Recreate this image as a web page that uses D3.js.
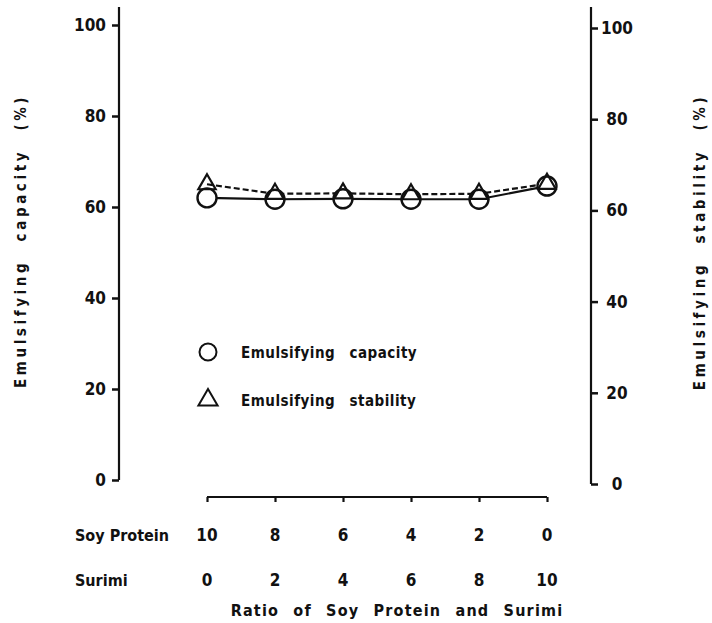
<!DOCTYPE html>
<html>
<head>
<meta charset="utf-8">
<script src="https://cdn.jsdelivr.net/npm/d3@7/dist/d3.min.js"></script>
<style>
  body { margin: 0; background: #fff; }
  text { font-family: "DejaVu Sans Condensed", "Liberation Sans Narrow", sans-serif; font-weight: bold; fill: #111; }
</style>
</head>
<body>
<svg id="svg" width="712" height="623"></svg>
<script>
// ratio categories (soy protein : surimi)
const soyProtein = [10, 8, 6, 4, 2, 0]
const surimi = [0, 2, 4, 6, 8, 10]
const capacity = [62.0, 61.7, 61.8, 61.7, 61.7, 64.6]
const stability = [65.0, 62.9, 63.0, 62.8, 62.9, 65.1]
const yTicks = [0, 20, 40, 60, 80, 100]

const svg = d3.select("#svg")
const ink = "#111"

const x = d3.scaleLinear().domain([0, 5]).range([207, 547])
const yL = d3.scaleLinear().domain([0, 100]).range([480, 25])
const yR = d3.scaleLinear().domain([0, 100]).range([484, 28])

// left axis
const left = svg.append("g").attr("transform", "translate(119,0)")
  .call(d3.axisLeft(yL).tickValues(yTicks).tickSize(7).tickPadding(6))
left.select(".domain").remove()
left.append("line").attr("y1", 7).attr("y2", yL(0)).attr("stroke", ink).attr("stroke-width", 2.2)
left.selectAll(".tick line").attr("stroke", ink).attr("stroke-width", 2.5)
left.selectAll(".tick text").attr("font-size", 17).attr("fill", ink)

// right axis
const right = svg.append("g").attr("transform", "translate(591,0)")
  .call(d3.axisRight(yR).tickValues(yTicks).tickSize(7).tickPadding(9))
right.select(".domain").remove()
right.append("line").attr("y1", 7).attr("y2", yR(0)).attr("stroke", ink).attr("stroke-width", 2.2)
right.selectAll(".tick line").attr("stroke", ink).attr("stroke-width", 2.5)
right.selectAll(".tick text").attr("font-size", 17).attr("fill", ink)
  .attr("text-anchor", "middle").attr("x", 26)

// x axis
const bottom = svg.append("g").attr("transform", "translate(0,497)")
  .call(d3.axisBottom(x).tickValues(d3.range(6)).tickSize(5).tickFormat(""))
bottom.select(".domain").attr("d", `M${x(0)},0H${x(5)}`).attr("stroke", ink).attr("stroke-width", 2.2)
bottom.selectAll(".tick line").attr("stroke", ink).attr("stroke-width", 2.2)

const rowLabels = svg.append("g").attr("font-size", 17)
rowLabels.selectAll(".soy").data(soyProtein).enter().append("text")
  .attr("x", (d, i) => x(i)).attr("y", 541).attr("text-anchor", "middle").text(d => d)
rowLabels.selectAll(".sur").data(surimi).enter().append("text")
  .attr("x", (d, i) => x(i)).attr("y", 586).attr("text-anchor", "middle").text(d => d)
rowLabels.append("text").attr("x", 75).attr("y", 541).attr("font-size", 16).text("Soy Protein")
rowLabels.append("text").attr("x", 75).attr("y", 586).attr("font-size", 16).text("Surimi")

svg.append("text").attr("x", 397).attr("y", 616).attr("text-anchor", "middle")
  .attr("font-size", 16).attr("letter-spacing", 1.2).attr("word-spacing", 8)
  .text("Ratio of Soy Protein and Surimi")

// axis titles
svg.append("text").attr("transform", "translate(26,241) rotate(-90)").attr("text-anchor", "middle")
  .attr("font-size", 15).attr("letter-spacing", 3.6).attr("word-spacing", 10)
  .text("Emulsifying capacity (%)")
svg.append("text").attr("transform", "translate(705,242) rotate(-90)").attr("text-anchor", "middle")
  .attr("font-size", 15).attr("letter-spacing", 3.6).attr("word-spacing", 10)
  .text("Emulsifying stability (%)")

// lines
const lineL = d3.line().x((d, i) => x(i)).y(d => yL(d))
svg.append("path").datum(stability).attr("d", lineL).attr("fill", "none")
  .attr("stroke", ink).attr("stroke-width", 2.2).attr("stroke-dasharray", "6,3")
svg.append("path").datum(capacity).attr("d", lineL).attr("fill", "none")
  .attr("stroke", ink).attr("stroke-width", 2.2)

const tri = d3.symbol().type(d3.symbolTriangle).size(130)
const triLegend = d3.symbol().type(d3.symbolTriangle).size(160)

svg.append("g").selectAll("circle").data(capacity).enter().append("circle")
  .attr("cx", (d, i) => x(i)).attr("cy", d => yL(d)).attr("r", 9.5)
  .attr("fill", "#fff").attr("stroke", ink).attr("stroke-width", 2.4)
svg.append("g").selectAll("path").data(stability).enter().append("path")
  .attr("d", tri).attr("transform", (d, i) => `translate(${x(i)},${yL(d)})`)
  .attr("fill", "none").attr("stroke", ink).attr("stroke-width", 2.2)

// legend
const legend = svg.append("g").attr("font-size", 15)
legend.append("circle").attr("cx", 208).attr("cy", 352).attr("r", 8.5)
  .attr("fill", "none").attr("stroke", ink).attr("stroke-width", 2)
legend.append("path").attr("d", triLegend).attr("transform", "translate(208,400)")
  .attr("fill", "none").attr("stroke", ink).attr("stroke-width", 2)
legend.append("text").attr("x", 241).attr("y", 358).attr("word-spacing", 9).attr("letter-spacing", 0.5)
  .text("Emulsifying capacity")
legend.append("text").attr("x", 241).attr("y", 406).attr("word-spacing", 9).attr("letter-spacing", 0.5)
  .text("Emulsifying stability")
</script>
</body>
</html>
